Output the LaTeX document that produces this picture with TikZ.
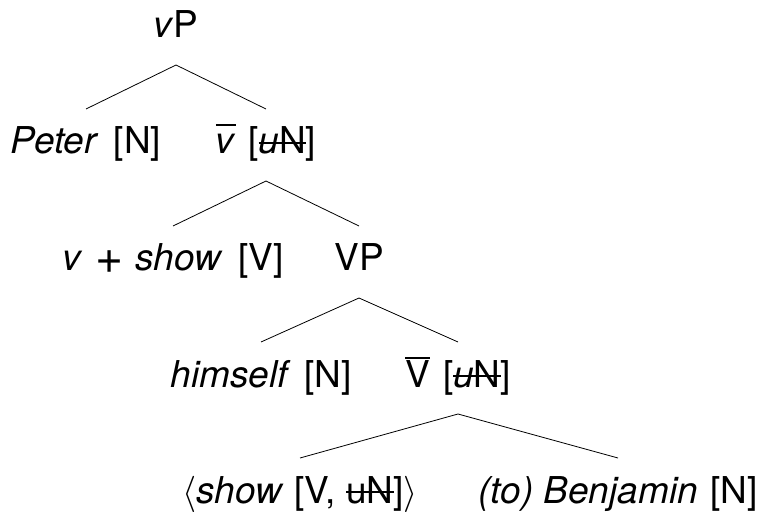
\documentclass[tikz,border=0pt]{standalone}
\usepackage{graphicx}
\usepackage{fontspec}
\setmainfont{TeX Gyre Heros}
\newsavebox\strkbox
\newsavebox\obarbox
\newcommand\strk[1]{\sbox\strkbox{#1}\rlap{\raisebox{0.27em}{\rule{\wd\strkbox}{0.045em}}}\usebox\strkbox}
\newcommand\obar[1]{\sbox\obarbox{#1}\rlap{\raisebox{0.76em}{\rule{\wd\obarbox}{0.045em}}}\usebox\obarbox}
\newcommand\lang{\resizebox*{!}{0.98em}{$\langle$}}
\newcommand\rang{\resizebox*{!}{0.98em}{$\rangle$}}
\newcommand\bigplus{\raisebox{-0.07em}{\scalebox{1.3}{+}}}
\begin{document}
\begin{tikzpicture}[x=1bp,y=-1bp,
  lbl/.style={anchor=base, inner sep=0pt, font=\fontsize{37bp}{41bp}\selectfont},
  branch/.style={line width=0.8bp}]
\useasboundingbox (0,0) rectangle (763,512);
\node[lbl] (vP) at (176,38) {\textit{v}P};
\node[lbl] (peter) at (86,154) {\textit{Peter}\hspace{5bp} [N]};
\node[lbl] (vbar) at (266,154) {\obar{\textit{v}}\hspace{2bp} [\strk{\textit{u}N}]};
\node[lbl] (vshow) at (173,271) {\textit{v}\hspace{2bp} \bigplus\hspace{2bp} \textit{show}\hspace{5bp} [V]};
\node[lbl] (VP) at (359,271) {VP};
\node[lbl] (himself) at (261,387) {\textit{himself}\hspace{3bp} [N]};
\node[lbl] (Vbar) at (458,387) {\obar{V}\hspace{3bp} [\strk{\textit{u}N}]};
\node[lbl] (show) at (300,503) {\lang\textit{show} [V, \strk{uN}]\rang};
\node[lbl] (benj) at (618,503) {\textit{(to) Benjamin}\hspace{2bp} [N]};
\foreach \p/\c in {vP/peter, vP/vbar, vbar/vshow, vbar/VP, VP/himself, VP/Vbar, Vbar/show, Vbar/benj}
  \draw[branch] ([yshift=-27bp]\p.base) -- ([yshift=45bp]\c.base);
\end{tikzpicture}
\end{document}
